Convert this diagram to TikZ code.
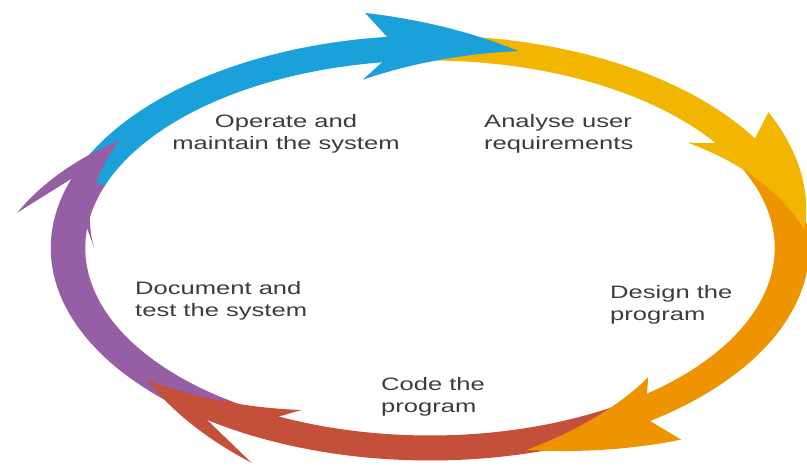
\documentclass[tikz,border=0pt]{standalone}
\usepackage{fontspec}
\setmainfont{Liberation Sans}
\newfontfamily\widefont[FakeStretch=1.42]{Liberation Sans}
\definecolor{cblue}{RGB}{27,161,217}
\definecolor{cyellow}{RGB}{243,182,0}
\definecolor{corange}{RGB}{238,148,0}
\definecolor{cred}{RGB}{197,80,58}
\definecolor{cpurple}{RGB}{150,94,165}
\definecolor{ctext}{RGB}{60,60,60}
\newcommand{\bandseg}[3]{%
  \fill[#1] plot[domain=#2:#3,samples=60] ({ex(\x,12.5)},{ey(\x,12.5)})
    -- plot[domain=#3:#2,samples=60] ({ex(\x,-12.5)},{ey(\x,-12.5)}) -- cycle;}
% color, t_on, t_ob, d_ob, t_tip, d_tip, t_ib, d_ib, t_in
\newcommand{\headseg}[9]{%
  \fill[#1] ({ex(#2,12.5)},{ey(#2,12.5)})
    -- ({ex(#3,#4)},{ey(#3,#4)})
    -- plot[domain=#3:#5,samples=30] ({ex(\x,lp(\x,#3,#5,#4,#6))},{ey(\x,lp(\x,#3,#5,#4,#6))})
    -- plot[domain=#5:#7,samples=30] ({ex(\x,lp(\x,#5,#7,#6,#8))},{ey(\x,lp(\x,#5,#7,#6,#8))})
    -- ({ex(#9,-12.5)},{ey(#9,-12.5)}) -- cycle;}
\begin{document}
\begin{tikzpicture}[x=1pt,y=-1pt,
  declare function={ex(\t,\d)=430+(362+1.38*\d)*cos(\t);
                    ey(\t,\d)=248+(200+\d)*sin(\t);
                    lp(\s,\a,\b,\p,\q)=\p+(\q-\p)*(\s-\a)/(\b-\a);},
  lbl/.style={font=\widefont\fontsize{18}{22}\selectfont, text=ctext, inner sep=0pt}]
\useasboundingbox[fill=white] (0,0) rectangle (807,468);
% bands
\bandseg{cblue}{199}{264}
\bandseg{cyellow}{263.5}{329.5}
\bandseg{corange}{329}{415}
\bandseg{cred}{54.5}{126.5}
\bandseg{cpurple}{126}{199.5}
% heads
\headseg{cblue}{263.5}{261}{38}{284}{3}{258}{-28}{262}
\headseg{cyellow}{329}{325}{37}{355}{10}{322.5}{-27}{326}
\headseg{corange}{54.5}{53}{40}{75}{9}{48}{-26}{51}
\headseg{cred}{126}{115.5}{38}{140}{5}{113}{-24}{116}
\headseg{cpurple}{199}{188.5}{40}{212}{3}{180}{-19}{186}
% labels
\node[lbl, align=center] (op) at (286,134) {Operate and\\maintain the system};
\node[lbl, align=left, anchor=west] (an) at (484,134) {Analyse user\\requirements};
\node[lbl, align=left, anchor=west] (de) at (610,305) {Design the\\program};
\node[lbl, align=left, anchor=west] (co) at (381,397) {Code the\\program};
\node[lbl, align=left, anchor=west] (do) at (135,301) {Document and\\test the system};
\end{tikzpicture}
\end{document}
